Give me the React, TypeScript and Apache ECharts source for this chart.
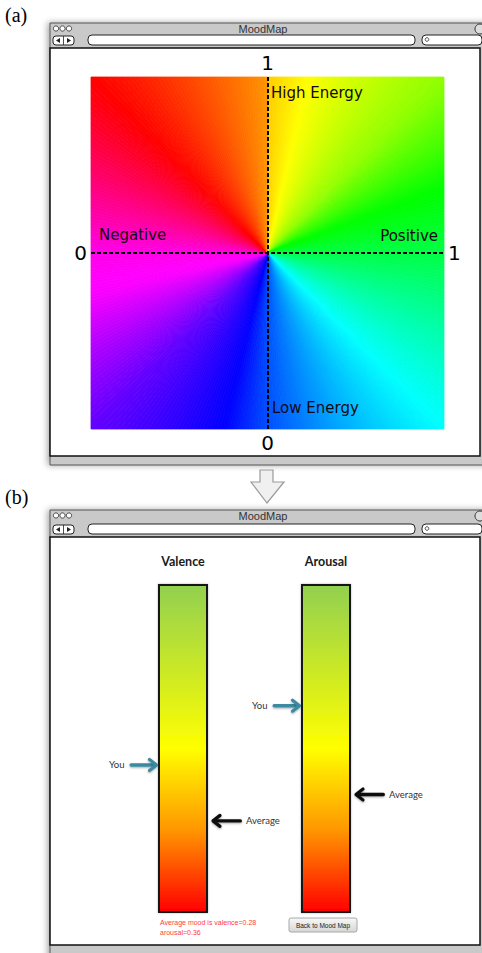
import React, { useEffect, useRef } from 'react';
import * as echarts from 'echarts';

// ---- Panel (a): mood map colour wheel (angle clockwise from top -> hue) ----
const CONIC_ANGLE = [0, 13, 45, 68, 90, 135, 180, 194, 225, 256, 270, 315, 360];
const CONIC_HUE = [48, 60, 86, 118, 136, 180, 221, 240, 263, 298, 305, 360, 395];
const MAP_X_TICKS = ['0', '1'];
const MAP_Y_TICKS = ['0', '1'];
const QUADRANT_LABELS = ['High Energy', 'Low Energy', 'Negative', 'Positive'];

// ---- Panel (b): valence / arousal bars ----
const MOOD_AXES = ['Valence', 'Arousal'];
const YOU_VALUES = [0.45, 0.63];
const AVERAGE_VALUES = [0.28, 0.36];
const BAR_STOPS = [0, 0.5, 0.75, 1];
const BAR_COLORS = ['#92d050', '#ffff00', '#ff9600', '#ff0000'];

function hslHex(h: number, s: number, l: number) {
  h = ((h % 360) + 360) % 360;
  const c = (1 - Math.abs(2 * l - 1)) * s;
  const x = c * (1 - Math.abs(((h / 60) % 2) - 1));
  const m = l - c / 2;
  let r = 0, g = 0, b = 0;
  if (h < 60) { r = c; g = x; }
  else if (h < 120) { r = x; g = c; }
  else if (h < 180) { g = c; b = x; }
  else if (h < 240) { g = x; b = c; }
  else if (h < 300) { r = x; b = c; }
  else { r = c; b = x; }
  const hx = (v: number) => Math.round((v + m) * 255).toString(16).padStart(2, '0');
  return '#' + hx(r) + hx(g) + hx(b);
}

function rayPoint(deg: number) {
  const r = (deg * Math.PI) / 180;
  const dx = Math.sin(r);
  const dy = Math.cos(r);
  const t = 0.5 / Math.max(Math.abs(dx), Math.abs(dy));
  return [0.5 + t * dx, 0.5 + t * dy];
}

function conicRender(params: any, api: any) {
  const i = api.value(2);
  const a0 = CONIC_ANGLE[i];
  const a1 = CONIC_ANGLE[i + 1];
  const h0 = CONIC_HUE[i];
  const h1 = CONIC_HUE[i + 1];
  const c = api.coord([0.5, 0.5]);
  const steps = Math.max(1, Math.round(a1 - a0));
  const children: any[] = [];
  for (let k = 0; k < steps; k++) {
    const s = a0 + ((a1 - a0) * k) / steps;
    const e = a0 + ((a1 - a0) * (k + 1)) / steps;
    const hue = h0 + (h1 - h0) * ((k + 0.5) / steps);
    const col = hslHex(hue, 1, 0.5);
    children.push({
      type: 'polygon',
      shape: { points: [c, api.coord(rayPoint(s)), api.coord(rayPoint(e))] },
      style: { fill: col, stroke: col, lineWidth: 0.8 },
    });
  }
  return { type: 'group', children };
}

function arrowRender(kind: 'you' | 'avg') {
  return (params: any, api: any) => {
    const p = api.coord([api.value(0), api.value(1)]);
    const band = api.size([1, 0])[0];
    const y = p[1];
    const font = { fontSize: 9.5, fontFamily: 'Lato', fill: '#333' };
    const shadow = { shadowBlur: 2, shadowColor: 'rgba(0,0,0,0.35)', shadowOffsetY: 1 };
    const th = 3.4;
    if (kind === 'you') {
      const tip = p[0] - band / 2 - 0.5;
      const tail = tip - 28;
      const col = '#3a8aa2';
      return {
        type: 'group',
        children: [
          { type: 'rect', shape: { x: tail, y: y - th / 2, width: tip - 3 - tail, height: th, r: th / 2 }, style: { fill: col, ...shadow } },
          { type: 'polyline', shape: { points: [[tip - 8, y - 5.5], [tip - 1, y], [tip - 8, y + 5.5]] }, style: { stroke: col, fill: 'none', lineWidth: 3.2, lineCap: 'round', lineJoin: 'round', ...shadow } },
          { type: 'text', x: tail - 5, y, style: { text: 'You', align: 'right', verticalAlign: 'middle', ...font } },
        ],
      };
    }
    const tip = p[0] + band / 2 + 4;
    const tail = tip + 30;
    const col = '#111';
    return {
      type: 'group',
      children: [
        { type: 'rect', shape: { x: tip + 3, y: y - th / 2, width: tail - tip - 3, height: th, r: th / 2 }, style: { fill: col, ...shadow } },
        { type: 'polyline', shape: { points: [[tip + 8, y - 5.5], [tip + 1, y], [tip + 8, y + 5.5]] }, style: { stroke: col, fill: 'none', lineWidth: 3.2, lineCap: 'round', lineJoin: 'round', ...shadow } },
        { type: 'text', x: tail + 4, y, style: { text: 'Average', align: 'left', verticalAlign: 'middle', ...font } },
      ],
    };
  };
}

function windowChrome(top: number, addrY: number, contentTop: number, contentBottom: number, bottom: number) {
  const els: any[] = [];
  els.push({ type: 'rect', shape: { x: 50, y: top, width: 440, height: bottom - top }, style: { fill: '#c9c9c9', stroke: '#555', lineWidth: 1, shadowBlur: 6, shadowColor: 'rgba(0,0,0,0.35)', shadowOffsetX: -2 } });
  els.push({ type: 'text', x: 263, y: top + 6, style: { text: 'MoodMap', align: 'center', verticalAlign: 'middle', fontSize: 11, fontFamily: 'Liberation Sans', fill: '#333' } });
  [56, 62.5, 69].forEach((cx) => els.push({ type: 'circle', shape: { cx, cy: top + 5.5, r: 2.6 }, style: { fill: '#fff', stroke: '#222', lineWidth: 0.8 } }));
  els.push({ type: 'circle', shape: { cx: 480, cy: top + 6, r: 5 }, style: { fill: '#ddd', stroke: '#333', lineWidth: 1 } });
  els.push({ type: 'rect', shape: { x: 53, y: addrY + 1, width: 21, height: 9, r: 3 }, style: { fill: '#fff', stroke: '#222', lineWidth: 1 } });
  els.push({ type: 'line', shape: { x1: 63.5, y1: addrY + 1, x2: 63.5, y2: addrY + 10 }, style: { stroke: '#222', lineWidth: 0.8 } });
  els.push({ type: 'polygon', shape: { points: [[56, addrY + 5.5], [60, addrY + 3], [60, addrY + 8]] }, style: { fill: '#222' } });
  els.push({ type: 'polygon', shape: { points: [[71, addrY + 5.5], [67, addrY + 3], [67, addrY + 8]] }, style: { fill: '#222' } });
  els.push({ type: 'rect', shape: { x: 88, y: addrY, width: 327, height: 10, r: 4 }, style: { fill: '#fff', stroke: '#222', lineWidth: 1 } });
  els.push({ type: 'rect', shape: { x: 422, y: addrY, width: 60, height: 10, r: 4 }, style: { fill: '#fff', stroke: '#222', lineWidth: 1 } });
  els.push({ type: 'circle', shape: { cx: 427, cy: addrY + 4.5, r: 1.8 }, style: { fill: 'none', stroke: '#222', lineWidth: 0.8 } });
  els.push({ type: 'rect', shape: { x: 50, y: contentTop, width: 430, height: contentBottom - contentTop }, style: { fill: '#fff', stroke: '#111', lineWidth: 1.5 } });
  return els;
}

export default function App() {
  const ref = useRef<HTMLDivElement>(null);
  useEffect(() => {
    if (!ref.current) return;
    const chart = echarts.init(ref.current, undefined, { renderer: 'svg' });
    const dashed = { color: '#000', width: 2, type: [4, 2] as any };
    const hidden = { color: 'rgba(0,0,0,0)', width: 2, type: 'solid' as any };
    const tickLabel = { show: true, color: '#000', fontSize: 20, fontFamily: 'DejaVu Sans', distance: 4 };
    const textZ = 100;

    const graphics: any[] = [
      ...windowChrome(23, 35, 48, 456, 465),
      ...windowChrome(510, 524, 537, 945, 960),
      { type: 'text', x: 5, y: 15, style: { text: '(a)', fontSize: 20, fontFamily: 'Liberation Serif', fill: '#000', verticalAlign: 'middle' } },
      { type: 'text', x: 5, y: 497, style: { text: '(b)', fontSize: 20, fontFamily: 'Liberation Serif', fill: '#000', verticalAlign: 'middle' } },
      { type: 'polygon', shape: { points: [[260, 470], [273, 470], [273, 482], [284, 482], [267, 503], [251, 482], [260, 482]] }, style: { fill: '#f0f0f0', stroke: '#9a9a9a', lineWidth: 1.2 } },
      { type: 'text', z: textZ, x: 271, y: 93, style: { text: QUADRANT_LABELS[0], fontSize: 15, fontFamily: 'DejaVu Sans', fill: '#140814', verticalAlign: 'middle' } },
      { type: 'text', z: textZ, x: 272, y: 408, style: { text: QUADRANT_LABELS[1], fontSize: 15, fontFamily: 'DejaVu Sans', fill: '#140814', verticalAlign: 'middle' } },
      { type: 'text', z: textZ, x: 99, y: 235, style: { text: QUADRANT_LABELS[2], fontSize: 15, fontFamily: 'DejaVu Sans', fill: '#140814', verticalAlign: 'middle' } },
      { type: 'text', z: textZ, x: 438, y: 236, style: { text: QUADRANT_LABELS[3], fontSize: 15, fontFamily: 'DejaVu Sans', fill: '#140814', align: 'right', verticalAlign: 'middle' } },
      { type: 'text', z: textZ, x: 160, y: 922, style: { text: `Average mood is ${MOOD_AXES[0].toLowerCase()}=${AVERAGE_VALUES[0]}`, fontSize: 7, fontFamily: 'Liberation Sans', fill: '#ff3b3b', verticalAlign: 'middle' } },
      { type: 'text', z: textZ, x: 160, y: 932, style: { text: `${MOOD_AXES[1].toLowerCase()}=${AVERAGE_VALUES[1]}`, fontSize: 7, fontFamily: 'Liberation Sans', fill: '#ff3b3b', verticalAlign: 'middle' } },
      { type: 'rect', z: textZ, shape: { x: 289, y: 918, width: 68, height: 14, r: 2 }, style: { stroke: '#a8a8a8', lineWidth: 1, fill: new echarts.graphic.LinearGradient(0, 0, 0, 1, [{ offset: 0, color: '#f8f8f8' }, { offset: 1, color: '#d6d6d6' }]) } },
      { type: 'text', z: textZ, x: 323, y: 925.5, style: { text: 'Back to Mood Map', fontSize: 6.5, fontFamily: 'Liberation Sans', fill: '#222', align: 'center', verticalAlign: 'middle' } },
    ];

    const barGradient = {
      type: 'linear', x: 0, y: 0, x2: 0, y2: 1,
      colorStops: BAR_STOPS.map((o, i) => ({ offset: o, color: BAR_COLORS[i] })),
    };

    const series: any[] = [
      {
        type: 'custom', name: 'moodmap', xAxisIndex: 0, yAxisIndex: 0, silent: true, z: 2,
        data: CONIC_ANGLE.slice(0, -1).map((_, i) => [0.5, 0.5, i]),
        renderItem: conicRender,
      },
      {
        type: 'line', name: 'axes', xAxisIndex: 0, yAxisIndex: 0, data: [], z: 5,
        markLine: {
          silent: true, symbol: 'none', animation: false,
          lineStyle: dashed,
          label: tickLabel,
          data: [
            [{ coord: [0, 0.5], label: { ...tickLabel, position: 'start', formatter: MAP_X_TICKS[0] } }, { coord: [1, 0.5] }],
            [{ coord: [0.5, 1], label: { ...tickLabel, position: 'start', formatter: MAP_Y_TICKS[1] } }, { coord: [0.5, 0] }],
          ],
        },
      },
      {
        type: 'line', name: 'axes-end', xAxisIndex: 0, yAxisIndex: 0, data: [], z: 4,
        markLine: {
          silent: true, symbol: 'none', animation: false,
          lineStyle: hidden,
          label: tickLabel,
          data: [
            [{ coord: [0, 0.5], label: { ...tickLabel, position: 'end', formatter: MAP_X_TICKS[1] } }, { coord: [1, 0.5] }],
            [{ coord: [0.5, 1], label: { ...tickLabel, position: 'end', formatter: MAP_Y_TICKS[0] } }, { coord: [0.5, 0] }],
          ],
        },
      },
    ];

    MOOD_AXES.forEach((name, i) => {
      const g = i + 1;
      series.push({
        type: 'bar', name, xAxisIndex: g, yAxisIndex: g, barWidth: '100%', silent: true,
        data: [1],
        itemStyle: { color: barGradient, borderColor: '#151515', borderWidth: 2, shadowBlur: 2, shadowColor: 'rgba(0,0,0,0.3)' },
      });
      series.push({
        type: 'custom', name: 'You', xAxisIndex: g, yAxisIndex: g, silent: true, z: 6,
        data: [[0, YOU_VALUES[i]]], renderItem: arrowRender('you'),
      });
      series.push({
        type: 'custom', name: 'Average', xAxisIndex: g, yAxisIndex: g, silent: true, z: 6,
        data: [[0, AVERAGE_VALUES[i]]], renderItem: arrowRender('avg'),
      });
    });

    const catAxis = (g: number, label: string) => ({
      gridIndex: g, type: 'category', data: [label], position: 'top',
      axisLine: { show: false }, axisTick: { show: false }, splitLine: { show: false },
      axisLabel: { fontWeight: 'bold', fontSize: 12.5, fontFamily: 'Lato', color: '#1a1a1a', margin: 16 },
    });
    const valAxis = (g: number) => ({ gridIndex: g, type: 'value', min: 0, max: 1, show: false });

    chart.setOption({
      animation: false,
      graphic: { elements: graphics },
      grid: [
        { left: 91, top: 77, width: 353, height: 352 },
        { left: 158, top: 584, width: 50, height: 329 },
        { left: 301, top: 584, width: 50, height: 329 },
      ],
      xAxis: [
        { gridIndex: 0, type: 'value', min: 0, max: 1, show: false },
        catAxis(1, MOOD_AXES[0]),
        catAxis(2, MOOD_AXES[1]),
      ],
      yAxis: [valAxis(0), valAxis(1), valAxis(2)],
      series,
    });
    return () => chart.dispose();
  }, []);
  return (
    <div
      ref={ref}
      style={{ position: 'absolute', left: 0, top: 0, width: 482, height: 953, overflow: 'hidden', background: '#fff' }}
    />
  );
}
